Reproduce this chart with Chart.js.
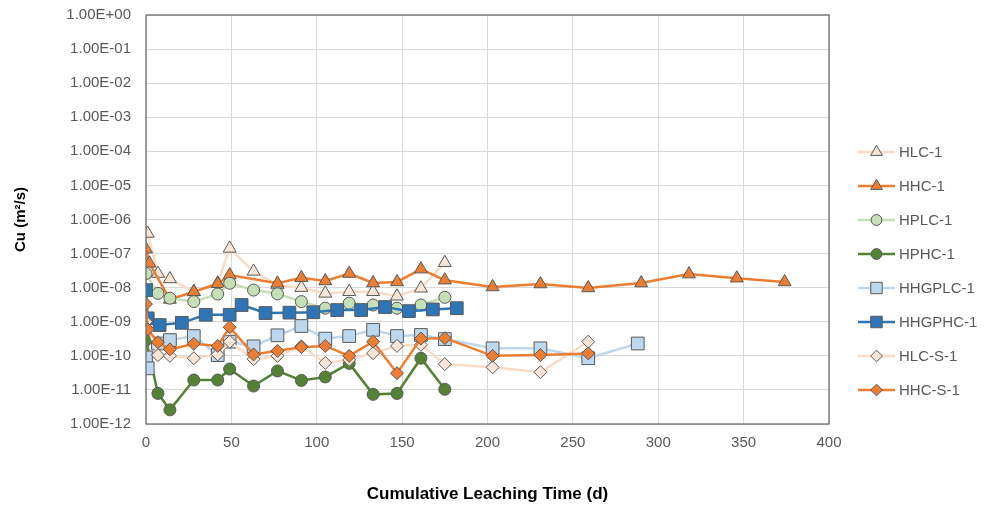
<!DOCTYPE html>
<html>
<head>
    <meta charset="UTF-8">
    <title>Cu leaching</title>
    <script src="https://cdn.jsdelivr.net/npm/chart.js"></script>
    <style>
        body { margin: 0; background: #fff; }
        #wrap { width: 987px; height: 508px; position: relative; }
    </style>
</head>
<body>
<div id="wrap"><canvas id="myChart"></canvas></div>
<script>
    // values (days, m²/s)
    const hlcDays = [1, 7, 14, 28, 42, 49, 63, 77, 91, 105, 119, 133, 147, 161, 175];
    const hlcVals = [3.9e-7, 2.6e-8, 1.8e-8, 7.5e-9, 1.35e-8, 1.42e-7, 3.0e-8, 1.2e-8, 1.0e-8, 6.8e-9, 7.6e-9, 7.6e-9, 5.6e-9, 9.6e-9, 5.4e-8];

    const hhcDays = [0, 2, 14, 28, 42, 49, 77, 91, 105, 119, 133, 147, 161, 175, 203, 231, 259, 290, 318, 346, 374];
    const hhcVals = [1.35e-7, 5.2e-8, 4.5e-9, 7.6e-9, 1.3e-8, 2.35e-8, 1.34e-8, 1.95e-8, 1.57e-8, 2.6e-8, 1.37e-8, 1.47e-8, 3.5e-8, 1.66e-8, 1.05e-8, 1.28e-8, 9.8e-9, 1.37e-8, 2.5e-8, 1.9e-8, 1.47e-8];

    const hplcDays = [0, 7, 14, 28, 42, 49, 63, 77, 91, 105, 119, 133, 147, 161, 175];
    const hplcVals = [2.6e-8, 6.8e-9, 4.9e-9, 3.9e-9, 6.5e-9, 1.35e-8, 8.5e-9, 6.6e-9, 3.9e-9, 2.5e-9, 3.5e-9, 3.1e-9, 2.5e-9, 3.1e-9, 5.2e-9];

    const hphcDays = [0, 7, 14, 28, 42, 49, 63, 77, 91, 105, 119, 133, 147, 161, 175];
    const hphcVals = [2.9e-10, 7.9e-12, 2.6e-12, 1.95e-11, 1.95e-11, 4.1e-11, 1.3e-11, 3.6e-11, 1.9e-11, 2.4e-11, 6e-11, 7.4e-12, 7.9e-12, 8.5e-11, 1.04e-11];

    const hhgplcDays = [0, 1, 7, 14, 28, 42, 49, 63, 77, 91, 105, 119, 133, 147, 161, 175, 203, 231, 259, 288];
    const hhgplcVals = [9e-11, 4.3e-11, 2.3e-10, 2.9e-10, 3.8e-10, 1.05e-10, 2.6e-10, 1.9e-10, 4.0e-10, 7.5e-10, 3.2e-10, 3.8e-10, 5.8e-10, 3.8e-10, 4.1e-10, 3.1e-10, 1.66e-10, 1.66e-10, 8.5e-11, 2.3e-10];

    const hhgphcDays = [0, 1, 8, 21, 35, 49, 56, 70, 84, 98, 112, 126, 140, 154, 168, 182];
    const hhgphcVals = [8.5e-9, 1.26e-9, 8e-10, 9.3e-10, 1.6e-9, 1.6e-9, 3.1e-9, 1.8e-9, 1.85e-9, 1.9e-9, 2.2e-9, 2.2e-9, 2.7e-9, 2.05e-9, 2.3e-9, 2.5e-9];

    const hlcsDays = [0, 7, 14, 28, 42, 49, 63, 77, 91, 105, 119, 133, 147, 161, 175, 203, 231, 259];
    const hlcsVals = [1.0e-9, 1.05e-10, 1.0e-10, 8.5e-11, 1.1e-10, 2.6e-10, 8e-11, 1.0e-10, 1.9e-10, 6.2e-11, 7.6e-11, 1.2e-10, 1.95e-10, 2.1e-10, 5.7e-11, 4.6e-11, 3.3e-11, 2.6e-10];

    const hhcsDays = [0, 1, 7, 14, 28, 42, 49, 63, 77, 91, 105, 119, 133, 147, 161, 175, 203, 231, 259];
    const hhcsVals = [3.3e-9, 6e-10, 2.5e-10, 1.55e-10, 2.25e-10, 1.95e-10, 6.9e-10, 1.1e-10, 1.4e-10, 1.8e-10, 1.95e-10, 1.0e-10, 2.6e-10, 3.1e-11, 3.2e-10, 3.3e-10, 1.0e-10, 1.05e-10, 1.18e-10];

    const xTicks = [0, 50, 100, 150, 200, 250, 300, 350, 400];
    const yTicks = [1e-12, 1e-11, 1e-10, 1e-9, 1e-8, 1e-7, 1e-6, 1e-5, 1e-4, 1e-3, 1e-2, 1e-1, 1];

    function pts(days, vals) {
        return days.map((d, i) => ({ x: d, y: vals[i] }));
    }

    function sciLabel(v) {
        const e = Math.round(Math.log10(v));
        return '1.00E' + (e < 0 ? '-' : '+') + String(Math.abs(e)).padStart(2, '0');
    }

    const edge = '#595959';
    const fontFam = '"Liberation Sans", Arial, sans-serif';
    // name, points, line colour, fill colour, marker, radius
    const series = [
        ['HLC-1', pts(hlcDays, hlcVals), '#FADBC6', '#FBE5D6', 'triangle', 7.5],
        ['HHC-1', pts(hhcDays, hhcVals), '#ED7D31', '#ED7D31', 'triangle', 7.5],
        ['HPLC-1', pts(hplcDays, hplcVals), '#C5E0B4', '#C5E0B4', 'circle', 6],
        ['HPHC-1', pts(hphcDays, hphcVals), '#548235', '#548235', 'circle', 6],
        ['HHGPLC-1', pts(hhgplcDays, hhgplcVals), '#BDD7EE', '#BDD7EE', 'rect', 9],
        ['HHGPHC-1', pts(hhgphcDays, hhgphcVals), '#2E75B6', '#2E75B6', 'rect', 9],
        ['HLC-S-1', pts(hlcsDays, hlcsVals), '#FADBC6', '#FBE5D6', 'rectRot', 6.5],
        ['HHC-S-1', pts(hhcsDays, hhcsVals), '#ED7D31', '#ED7D31', 'rectRot', 6.5]
    ];

    const datasets = series.map((s, i) => ({
        label: s[0],
        data: s[1],
        borderColor: s[2],
        backgroundColor: s[3],
        borderWidth: 2.5,
        pointStyle: s[4],
        pointRadius: s[5],
        pointBorderColor: edge,
        pointBackgroundColor: s[3],
        pointBorderWidth: 1,
        tension: 0,
        order: series.length - i // later series on top, like the original
    }));

    function drawMarker(ctx, style, r, x, y) {
        ctx.beginPath();
        if (style === 'circle') {
            ctx.arc(x, y, r, 0, Math.PI * 2);
        } else if (style === 'rect') {
            const s = Math.SQRT1_2 * r;
            ctx.rect(x - s, y - s, 2 * s, 2 * s);
        } else if (style === 'rectRot') {
            ctx.moveTo(x - r, y); ctx.lineTo(x, y - r); ctx.lineTo(x + r, y); ctx.lineTo(x, y + r);
            ctx.closePath();
        } else {
            ctx.moveTo(x, y - r);
            ctx.lineTo(x + Math.sin(Math.PI * 2 / 3) * r, y - Math.cos(Math.PI * 2 / 3) * r);
            ctx.lineTo(x + Math.sin(Math.PI * 4 / 3) * r, y - Math.cos(Math.PI * 4 / 3) * r);
            ctx.closePath();
        }
        ctx.fill();
        ctx.stroke();
    }

    const frameAndLegend = {
        id: 'frameAndLegend',
        afterDraw(chart) {
            const ctx = chart.ctx;
            const a = chart.chartArea;
            ctx.save();
            ctx.strokeStyle = '#6E6E6E';
            ctx.lineWidth = 1.3;
            ctx.strokeRect(a.left, a.top, a.right - a.left, a.bottom - a.top);

            ctx.font = '15px ' + fontFam;
            ctx.textBaseline = 'middle';
            ctx.textAlign = 'left';
            series.forEach((s, i) => {
                const y = 152 + i * 34;
                ctx.strokeStyle = s[2];
                ctx.lineWidth = 2.5;
                ctx.beginPath();
                ctx.moveTo(858, y);
                ctx.lineTo(895, y);
                ctx.stroke();
                ctx.fillStyle = s[3];
                ctx.strokeStyle = edge;
                ctx.lineWidth = 1;
                drawMarker(ctx, s[4], s[5] * 0.9, 876.5, y);
                ctx.fillStyle = '#595959';
                ctx.fillText(s[0], 899, y + 1);
            });
            ctx.restore();
        }
    };

    const ctx = document.getElementById('myChart').getContext('2d');
    const chart = new Chart(ctx, {
        type: 'line',
        data: { datasets: datasets },
        options: {
            responsive: true,
            maintainAspectRatio: false,
            animation: false,
            layout: { padding: { top: 15, right: 158, left: 0, bottom: 0 } },
            plugins: {
                legend: { display: false },
                tooltip: { enabled: false }
            },
            scales: {
                x: {
                    type: 'linear',
                    min: 0,
                    max: 400,
                    afterBuildTicks: s => { s.ticks = xTicks.map(v => ({ value: v })); },
                    afterFit: s => { s.height = 84; s.paddingLeft = 0; s.paddingRight = 0; },
                    grid: { color: '#D9D9D9', drawTicks: false },
                    border: { display: false },
                    ticks: {
                        color: '#595959',
                        padding: 10,
                        maxRotation: 0,
                        font: { family: fontFam, size: 15 }
                    },
                    title: {
                        display: true,
                        text: 'Cumulative Leaching Time (d)',
                        color: '#000',
                        padding: { bottom: 3 },
                        font: { family: fontFam, size: 17, weight: 'bold' }
                    }
                },
                y: {
                    type: 'logarithmic',
                    min: 1e-12,
                    max: 1,
                    afterBuildTicks: s => { s.ticks = yTicks.map(v => ({ value: v })); },
                    afterFit: s => { s.width = 146; s.paddingTop = 0; s.paddingBottom = 0; },
                    grid: { color: '#D9D9D9', drawTicks: false },
                    border: { display: false },
                    ticks: {
                        color: '#595959',
                        padding: 15,
                        callback: v => sciLabel(v),
                        font: { family: fontFam, size: 15 }
                    },
                    title: {
                        display: true,
                        text: 'Cu (m²/s)',
                        color: '#000',
                        padding: { top: 12 },
                        font: { family: fontFam, size: 15, weight: 'bold' }
                    }
                }
            }
        },
        plugins: [frameAndLegend]
    });
</script>
</body>
</html>
